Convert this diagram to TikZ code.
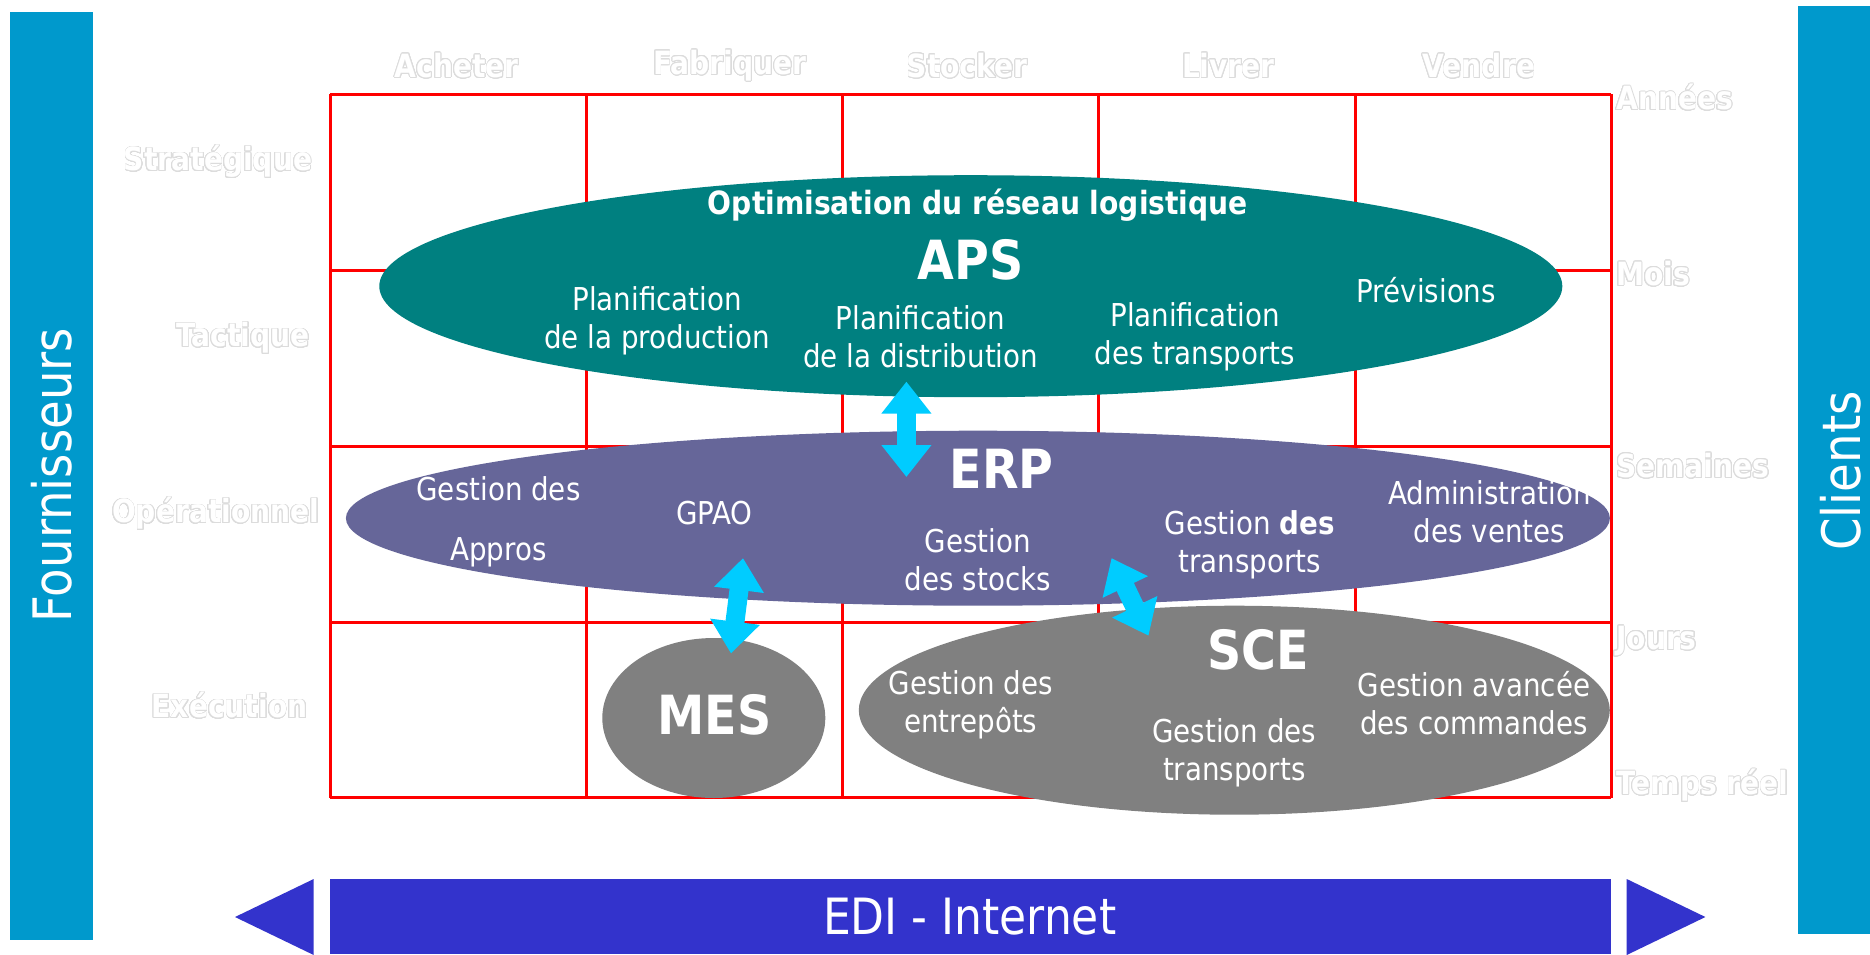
\documentclass[tikz,border=0pt]{standalone}
\usepackage{fontspec}
\setmainfont{DejaVu Sans}[FakeStretch=0.88]
\usepackage{contour}
\contourlength{0.8pt}
\contournumber{24}
\usetikzlibrary{shapes.geometric,arrows.meta}
\definecolor{barblue}{HTML}{0099CC}
\definecolor{apsteal}{HTML}{008080}
\definecolor{erpslate}{HTML}{666699}
\definecolor{scegray}{HTML}{808080}
\definecolor{arrowcyan}{HTML}{00CCFF}
\definecolor{ediblue}{HTML}{3333CC}
\definecolor{gridred}{HTML}{FF0000}
\definecolor{hdrgray}{HTML}{DCDCDC}
\tikzset{
  txt/.style={text=white, align=center, inner sep=0pt, font=\fontsize{31.5}{38}\selectfont},
  big/.style={text=white, inner sep=0pt, font=\bfseries\fontsize{54}{60}\selectfont},
  hdr/.style={text=white, inner sep=0pt, font=\bfseries\fontsize{32}{36}\selectfont},
  ell/.style={ellipse, inner sep=0pt, draw=none},
  dbl/.style={draw=arrowcyan, line width=19pt,
    {Triangle[width=48pt,length=32pt]}-{Triangle[width=48pt,length=32pt]}},
  side/.style={text=white, inner sep=0pt, font=\fontsize{53}{60}\selectfont},
}
\begin{document}
\begin{tikzpicture}[x=1pt,y=-1pt]
\useasboundingbox (0,0) rectangle (1870,954);
\fill[white] (0,0) rectangle (1870,954);

% side bars
\fill[barblue] (9.5,12) rectangle (93,940);
\fill[barblue] (1798,6) rectangle (1870,934);
\node[side, rotate=90] (fourn) at (52,475) {Fournisseurs};
\node[side, rotate=90] (clients) at (1841,471) {Clients};

% grid
\foreach \x in {330.3,586.5,842.7,1098.9,1355.1,1611.2}
  \draw[gridred, line width=3pt] (\x,94.2) -- (\x,797.9);
\foreach \y in {94.2,270.1,446.0,622.0,797.9}
  \draw[gridred, line width=3pt] (330.3,\y) -- (1611.2,\y);

% headers
\node[hdr] (h1) at (456.8,66) {\contour{hdrgray}{Acheter}};
\node[hdr] (h2) at (729.9,66) {\contour{hdrgray}{Fabriquer}};
\node[hdr] (h3) at (967.2,66) {\contour{hdrgray}{Stocker}};
\node[hdr] (h4) at (1228.4,66) {\contour{hdrgray}{Livrer}};
\node[hdr] (h5) at (1478.8,66) {\contour{hdrgray}{Vendre}};

\node[hdr, anchor=east] (l1) at (312.5,162) {\contour{hdrgray}{Stratégique}};
\node[hdr, anchor=east] (l2) at (310,338.5) {\contour{hdrgray}{Tactique}};
\node[hdr, anchor=east] (l3) at (319.6,513.8) {\contour{hdrgray}{Opérationnel}};
\node[hdr, anchor=east] (l4) at (307.7,705.8) {\contour{hdrgray}{Exécution}};

\node[hdr, anchor=west] (r1) at (1616,97.6) {\contour{hdrgray}{Années}};
\node[hdr, anchor=west] (r2) at (1616,274.1) {\contour{hdrgray}{Mois}};
\node[hdr, anchor=west] (r3) at (1616,466.1) {\contour{hdrgray}{Semaines}};
\node[hdr, anchor=west] (r4) at (1616,641.4) {\contour{hdrgray}{Jours}};
\node[hdr, anchor=west] (r5) at (1616,785.7) {\contour{hdrgray}{Temps réel}};

% ellipses
\node[ell, fill=apsteal, minimum width=1183pt, minimum height=222pt] (aps) at (970.8,286.2) {};
\node[ell, fill=erpslate, minimum width=1264pt, minimum height=175pt] (erp) at (977.9,518.2) {};
\node[ell, fill=scegray, minimum width=751pt, minimum height=209pt] (sce) at (1234.3,710.2) {};
\node[ell, fill=scegray, minimum width=223pt, minimum height=160pt] (mes) at (713.8,718) {};

% APS texts
\node[text=white, inner sep=0pt, font=\bfseries\fontsize{32}{38}\selectfont] (optim) at (977.9,205) {Optimisation du réseau logistique};
\node[big] (apsT) at (970.8,260) {APS};
\node[txt] (pprod) at (657.1,321) {Planification\\de la production};
\node[txt] (pdist) at (920.7,336.5) {Planification\\de la distribution};
\node[txt] (ptrans) at (1195,337) {Planification\\des transports};
\node[txt] (prev) at (1426.3,289.8) {Prévisions};

% ERP texts
\node[big] (erpT) at (1001.8,468.7) {ERP};
\node[txt] (appro) at (498.5,522) {Gestion des\\[22pt]Appros};
\node[txt] (gpao) at (714.4,512.8) {GPAO};
\node[txt] (gstock) at (977.9,560) {Gestion\\des stocks};
\node[txt] (gtrans) at (1249.8,545) {Gestion \textbf{des}\\transports};
\node[txt] (admin) at (1489.6,511.6) {Administration\\des ventes};

% MES / SCE texts
\node[big] (mesT) at (714.4,714.4) {MES};
\node[big] (sceT) at (1258.2,650) {SCE};
\node[txt] (gentr) at (970.8,704.5) {Gestion des\\entrepôts};
\node[txt] (gtrans2) at (1234.3,752.5) {Gestion des\\transports};
\node[txt] (gcmd) at (1474,703.6) {Gestion avancée\\des commandes};

% cyan double arrows
\coordinate (a1s) at (906.4,381.6);
\coordinate (a1e) at (906.4,477);
\coordinate (a2s) at (743,558.1);
\coordinate (a2e) at (731,653.5);
\coordinate (a3s) at (1111.5,558.1);
\coordinate (a3e) at (1148.5,635.7);
\draw[dbl] (a1s) -- (a1e);
\draw[dbl] (a2s) -- (a2e);
\draw[dbl] (a3s) -- (a3e);

% EDI bar
\fill[ediblue] (330.3,879) rectangle (1610.5,954);
\fill[ediblue] (235,917) -- (313.7,879) -- (313.7,955) -- cycle;
\fill[ediblue] (1705.4,917) -- (1626.7,879) -- (1626.7,955) -- cycle;
\node[text=white, inner sep=0pt, font=\fontsize{50}{56}\selectfont] (edi) at (969.6,917) {EDI - Internet};
\end{tikzpicture}
\end{document}
